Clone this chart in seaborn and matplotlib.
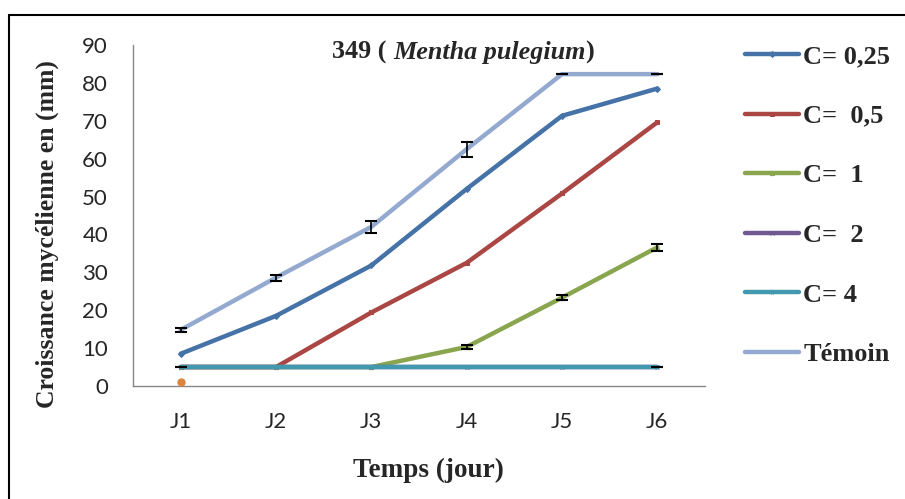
import numpy as np
import pandas as pd
import matplotlib.pyplot as plt
import seaborn as sns
from matplotlib.ticker import FixedLocator, NullFormatter
from matplotlib.lines import Line2D

days = ['J1', 'J2', 'J3', 'J4', 'J5', 'J6']
series_names = ['C= 0,25', 'C=  0,5', 'C=  1', 'C=  2', 'C= 4', 'Témoin']
c025 = [8.5, 18.5, 31.8, 52.0, 71.3, 78.5]
c05 = [5.0, 5.0, 19.4, 32.5, 50.8, 69.6]
c1 = [5.0, 5.0, 5.0, 10.3, 23.3, 36.6]
c2 = [5.0, 5.0, 5.0, 5.0, 5.0, 5.0]
c4 = [5.0, 5.0, 5.0, 5.0, 5.0, 5.0]
temoin = [14.8, 28.6, 42.0, 62.5, 82.3, 82.3]
# error bars (standard deviation), 0 = not visible
err_025 = [0, 0, 0, 0, 0, 0]
err_05 = [0, 0, 0, 0, 0, 0]
err_1 = [0, 0, 0, 0.5, 0.7, 0.9]
err_4 = [0.05, 0, 0, 0, 0, 0.05]
err_temoin = [0.5, 0.8, 1.5, 2.0, 0.05, 0.05]
stray_point = 1.0  # isolated orange point at J1

values = [c025, c05, c1, c2, c4, temoin]
errors = [err_025, err_05, err_1, None, err_4, err_temoin]
colors = ['#4572A7', '#AA4643', '#89A54E', '#71588F', '#4198AF', '#93A9CF']
markers = ['D', 's', '^', 'x', '*', None]

df = pd.DataFrame({
    'Jour': days * len(series_names),
    'Valeur': sum(values, []),
    'Serie': np.repeat(series_names, len(days)),
})

sns.set_style("white")
plt.rcParams['font.family'] = ['Liberation Serif', 'DejaVu Serif']

fig = plt.figure(figsize=(9.05, 4.99), dpi=100)
ax = fig.add_axes([0.147, 0.2265, 0.632, 0.6834])

for name, col, mk in zip(series_names, colors, markers):
    sub = df[df['Serie'] == name]
    sns.lineplot(data=sub, x='Jour', y='Valeur', ax=ax, color=col, lw=3.2,
                 marker=mk, markersize=3, markeredgecolor=col, label=name,
                 solid_capstyle='round', sort=False)

# error bars
for vals, errs in zip(values, errors):
    if errs is None:
        continue
    idx = [i for i, e in enumerate(errs) if e > 0]
    ax.errorbar(idx, [vals[i] for i in idx], yerr=[errs[i] for i in idx], fmt='none',
                ecolor='black', elinewidth=1.2, capsize=4, capthick=1.5, zorder=5)

ax.plot([0], [stray_point], 'o', color='#DB843D', markersize=5, zorder=6)

ax.set_xlim(-0.5, 5.5)
ax.set_ylim(0, 90)
ax.set_yticks(np.arange(0, 91, 10))
ax.xaxis.set_minor_locator(FixedLocator(np.arange(-0.5, 5.6, 1)))
ax.xaxis.set_minor_formatter(NullFormatter())
ax.tick_params(axis='x', which='major', length=0, pad=19, labelsize=16)
ax.tick_params(axis='x', which='minor', length=6, color='#888888', direction='out')
ax.tick_params(axis='y', length=6, color='#888888', direction='out', labelsize=16, pad=12)
for lab in ax.get_xticklabels() + ax.get_yticklabels():
    lab.set_family(['Lato', 'DejaVu Sans'])

for s in ['top', 'right']:
    ax.spines[s].set_visible(False)
for s in ['left', 'bottom']:
    ax.spines[s].set_color('#888888')
    ax.spines[s].set_linewidth(1.0)

ax.set_xlabel('Temps (jour)', fontsize=19.5, fontweight='bold', va='center')
ax.xaxis.set_label_coords(0.5157, -0.247)
ax.set_ylabel('Croissance mycélienne en (mm)', fontsize=18.5, fontweight='bold', va='center')
ax.yaxis.set_label_coords(-0.15, 0.445)

# title with italic species name
t1 = ax.text(0.348, 0.979, '349 ( ', transform=ax.transAxes, fontsize=18.8,
             fontweight='bold', ha='left', va='center')
t2 = ax.annotate('Mentha pulegium', xy=(1, 0), xycoords=t1, va='bottom', ha='left',
                 fontsize=18.8, fontweight='bold', style='italic')
ax.annotate(')', xy=(1, 0), xycoords=t2, va='bottom', ha='left',
            fontsize=18.8, fontweight='bold')

ax.get_legend().remove()
handles, labels = ax.get_legend_handles_labels()
fig.legend(handles[:6], labels[:6], loc='upper left', bbox_to_anchor=(0.797, 0.958),
           frameon=False, prop={'weight': 'bold', 'size': 19}, handlelength=2.05,
           handletextpad=0.15, labelspacing=1.37)

# page frame: top and left edges
fig.add_artist(Line2D([0.01, 1.0], [0.97, 0.97], color='black', lw=1.5))
fig.add_artist(Line2D([0.01, 0.01], [0.0, 0.97], color='black', lw=1.5))

fig.savefig('out.png', dpi=100)
